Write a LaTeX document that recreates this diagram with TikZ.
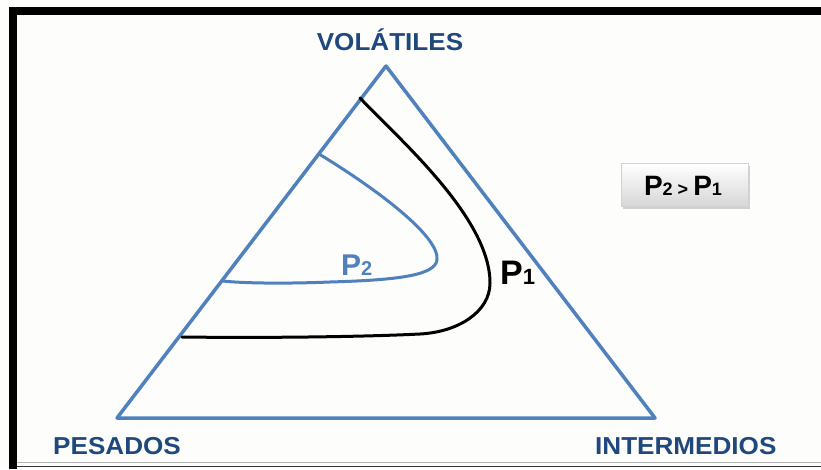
\documentclass[tikz,border=0pt]{standalone}
\usepackage{fontspec}
\setmainfont{Liberation Sans}
\usetikzlibrary{shadows}
\definecolor{triblue}{RGB}{79,129,189}
\definecolor{labblue}{RGB}{31,73,125}
\definecolor{bgwhite}{RGB}{253,253,251}
\newcommand{\widetext}[1]{\scalebox{1.065}[1]{#1}}
\begin{document}
\begin{tikzpicture}[x=1pt,y=-1pt,
  side/.style={draw=triblue,line width=3.5pt,line join=round},
  corner/.style={font=\fontsize{24.5}{25}\selectfont\bfseries,text=labblue,inner sep=0pt},
  curveone/.style={draw=black,line width=3pt,line cap=round},
  curvetwo/.style={draw=triblue,line width=3pt,line cap=round},
  plabel/.style={inner sep=0pt,font=\bfseries},
  cmpbox/.style={draw=gray!35,line width=0.6pt,top color=white,bottom color=gray!32,
    minimum width=127pt,minimum height=43pt,inner sep=0pt,
    drop shadow={shadow xshift=2pt,shadow yshift=-2pt,opacity=0.35}}]
\useasboundingbox (0,0) rectangle (821,469);
\fill[bgwhite] (0,0) rectangle (821,469);
% frame
\draw[line width=8pt,line join=miter] (13,469) -- (13,11) -- (821,11);
\draw[gray!60,line width=0.8pt] (17,462.5) -- (821,462.5);
\draw[black!80,line width=1pt] (17,466) -- (821,466);
% triangle
\coordinate (V) at (386,66);
\coordinate (L) at (117,418);
\coordinate (R) at (655,418);
\draw[side] (V) -- (L) -- (R) -- cycle;
% corner labels
\node[corner,anchor=base] (vol) at (390,50) {\widetext{VOLÁTILES}};
\node[corner,anchor=base west] (pes) at (53,454) {\widetext{PESADOS}};
\node[corner,anchor=base west] (int) at (595,454) {\widetext{INTERMEDIOS}};
% curves
\coordinate (a1) at (360,98);
\coordinate (b1) at (490,283);
\coordinate (c1) at (420,334);
\coordinate (d1) at (182,337);
\draw[curveone] (a1) .. controls (400,140) and (490,218) .. (b1)
  .. controls (490,312) and (458,332) .. (c1)
  .. controls (360,337) and (260,338) .. (d1);
\coordinate (a2) at (319,154);
\coordinate (b2) at (437,260);
\coordinate (c2) at (330,282);
\coordinate (d2) at (223,281);
\draw[curvetwo] (a2) .. controls (370,185) and (440,235) .. (b2)
  .. controls (435,275) and (400,280) .. (c2)
  .. controls (280,284) and (240,283) .. (d2);
% curve labels
\node[plabel,anchor=base west,text=triblue] (p2) at (341,275)
  {\fontsize{30}{30}\selectfont P\fontsize{20}{20}\selectfont 2};
\node[plabel,anchor=base west,text=black] (p1) at (500,284)
  {\fontsize{34}{34}\selectfont P\fontsize{22}{22}\selectfont 1};
% comparison box
\node[cmpbox] (box) at (684.5,185) {};
\node[plabel,anchor=base] (boxtxt) at (683,195)
  {\fontsize{28}{28}\selectfont P\fontsize{18}{18}\selectfont 2 \fontsize{18}{18}\selectfont> \fontsize{28}{28}\selectfont P\fontsize{18}{18}\selectfont 1};
\end{tikzpicture}
\end{document}
